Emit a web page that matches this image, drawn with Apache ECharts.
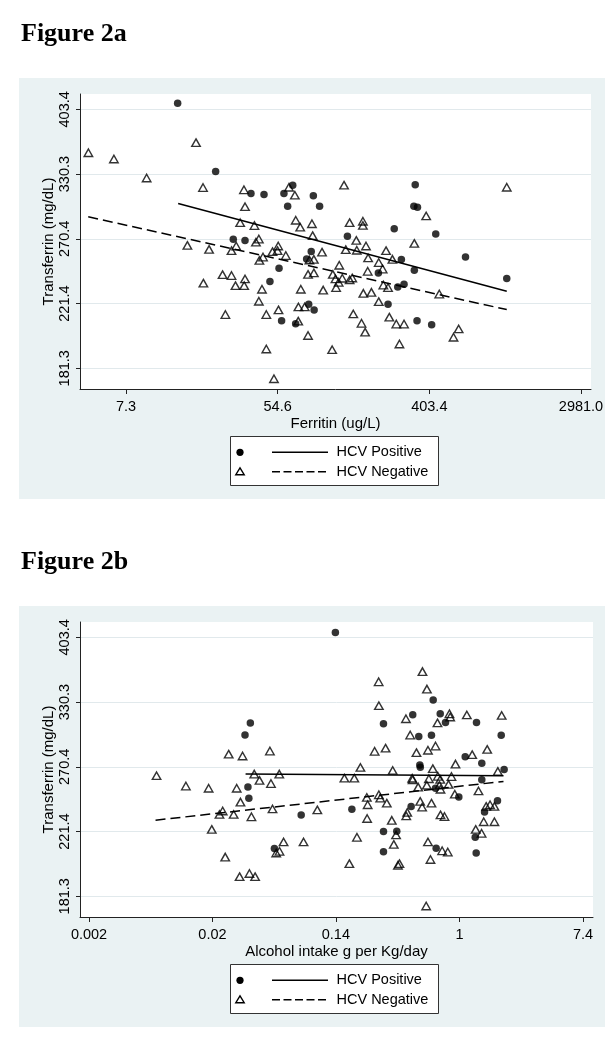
<!DOCTYPE html>
<html><head><meta charset="utf-8">
<script src="https://cdn.jsdelivr.net/npm/echarts@6/dist/echarts.min.js"></script>
<style>html,body{margin:0;padding:0;background:#fff}#c{width:614px;height:1050px}</style>
</head><body><div id="c"></div>
<script>
// ---- Figure 2a: Ferritin (ug/L) vs Transferrin (mg/dL), both on log scales ----
const fig2aPositive = [[14.6,411],[24.1,333],[38.4,311],[45.6,310],[59.3,311],[66.6,319],[87.4,309],[62.3,299],[94.9,299],[30.4,270],[35.5,269],[49.3,237],[55.6,247],[57.5,210],[69.2,208],[82.2,221],[88.3,217],[85.0,260],[80.0,254],[335,319.5],[329,299],[345,298],[254,279],[137,272.5],[439,274.5],[650,255.6],[279,253.6],[331,245.4],[206,243.4],[266,233],[289,235],[234,221],[343,210],[416,207.3],[1120,239.2]];
const fig2aNegative = [[4.5,352.8],[6.3,346],[9.7,326.3],[18.6,364],[20.4,316.8],[35.0,314.6],[35.5,298.6],[33.3,284.2],[40.2,281.7],[42.6,270.2],[41.0,267.6],[16.6,265],[22.1,261.7],[29.7,260.7],[31.6,264.5],[26.4,242.1],[29.7,241.4],[20.5,235.8],[31.3,234],[35.1,234],[35.5,238.9],[44.4,231.4],[42.6,223],[27.4,214],[47.0,214],[55.2,217.1],[47.0,192.4],[52.0,175.5],[51.0,259.9],[54.5,260.7],[45.0,255.6],[42.9,253],[60.8,256.8],[55.0,264.5],[63.4,317.1],[68.5,309.4],[69.3,286.4],[73.5,280.3],[85.8,283.3],[86.6,273.1],[74.1,231.4],[71.8,219.1],[78.0,219.1],[71.6,209.7],[81.5,200.6],[81.5,242.3],[88.0,243.4],[83.0,253.3],[88.0,253.8],[98,259.5],[99.5,230.8],[131,319.2],[1120,317.1],[387,290.2],[141,284.3],[168,285.5],[168,281.8],[331,266.6],[154,269.1],[134,261.5],[155,261],[175,264.5],[180,254.9],[123,249.2],[228,260.7],[248,253.8],[207,251.3],[218,246.3],[179,244.6],[113,242.3],[117,238.9],[122,236.4],[118,232.6],[128,239.4],[146,239.6],[141,238.2],[220,234.4],[234,232.6],[460,228.0],[169,228.5],[188,229.2],[207,222.7],[148,214.4],[238,212.3],[165,208.3],[173,202.7],[261,207.8],[289,207.8],[272,195.4],[112,192],[594,204.7],[555,199.5]];
const fig2aFitPositive = [[14.7,301.5],[1120,230.0]];
const fig2aFitNegative = [[4.49,289.4],[1120,217.3]];
const fig2aXTickValues = [7.389,54.6,403.4,2981.0];
const fig2aXTickLabels = ['7.3','54.6','403.4','2981.0'];

// ---- Figure 2b: Alcohol intake (g per Kg/day) vs Transferrin (mg/dL) ----
const fig2bPositive = [[0.0338,309.7],[0.031,298.3],[0.0325,254.0],[0.033,245.3],[0.077,233.0],[0.0499,210.1],[0.134,409.6],[0.653,332.5],[0.292,308.8],[0.469,317.6],[0.732,318.5],[0.797,310.2],[1.317,310.2],[0.517,297.0],[0.635,298.0],[1.965,298.0],[1.097,279.0],[1.435,273.5],[0.526,271.9],[0.530,270.0],[2.06,268.1],[1.435,259.8],[0.678,253.1],[0.989,246.3],[1.85,243.5],[1.50,235.2],[0.457,239.3],[0.175,237.2],[0.292,221.4],[0.362,221.6],[0.292,208.0],[0.685,210.3],[1.29,217.5],[1.31,207.2]];
const fig2bNegative = [[0.0074,263.1],[0.0119,254.8],[0.0172,253.1],[0.0181,222.9],[0.0225,204.6],[0.0284,192.6],[0.0333,194.5],[0.0365,192.6],[0.0238,281.2],[0.0298,279.6],[0.0464,283.9],[0.036,264.4],[0.0392,259.3],[0.054,264.4],[0.0472,256.8],[0.0271,253.1],[0.0288,242.5],[0.0216,235.9],[0.0205,233.4],[0.0258,233.4],[0.0344,231.7],[0.0484,237.4],[0.0579,214.4],[0.080,214.4],[0.0542,208.3],[0.0514,207.2],[0.100,236.7],[0.549,362.9],[0.270,351.6],[0.59,343.8],[0.271,326.6],[1.126,317.4],[0.85,318.5],[0.86,315.4],[0.70,309.7],[0.42,313.7],[0.45,298.3],[0.60,284.6],[0.678,288.3],[0.498,282.5],[0.937,272.7],[0.253,283.7],[0.302,286.5],[0.201,269.9],[0.339,267.4],[0.649,268.9],[0.155,261.1],[0.182,261.1],[0.465,261.0],[0.468,259.8],[0.609,260.6],[0.704,262.6],[0.732,260.1],[0.878,262.4],[0.512,254.0],[0.589,255.5],[0.723,255.5],[0.837,256.1],[0.735,252.3],[0.927,248.5],[0.223,246.0],[0.271,248.0],[0.226,240.5],[0.277,245.5],[0.308,241.7],[0.529,243.0],[0.635,241.7],[0.546,238.7],[0.429,234.9],[0.422,232.4],[0.735,233.1],[0.784,231.9],[0.224,230.5],[0.334,229.2],[0.19,217.5],[0.358,219.1],[0.345,212.8],[0.60,214.4],[0.755,208.6],[0.827,207.8],[0.168,200.5],[0.369,199.5],[0.378,200.5],[0.625,203.1],[0.583,175.9],[1.98,316.9],[1.566,285.4],[1.228,280.8],[1.86,266.6],[1.36,251.0],[1.54,239.3],[1.64,240.5],[1.76,239.3],[1.48,228.2],[1.76,228.2],[1.30,222.9],[1.43,220.2]];
const fig2bFitPositive = [[0.0313,264.5],[2.039,263.0]];
const fig2bFitNegative = [[0.00728,229.3],[2.039,258.5]];
const fig2bXTickValues = [0.00248,0.0183,0.135,1,7.389];
const fig2bXTickLabels = ['0.002','0.02','0.14','1','7.4'];

// ---- shared Transferrin ticks ----
const yTickValues = [181.3,221.4,270.4,330.3,403.4];
const yTickLabels = ['181.3','221.4','270.4','330.3','403.4'];
const legendNames = ['HCV Positive','HCV Negative'];

const FONT = '"Liberation Sans", Arial, sans-serif';
const ln = v => Math.log(v);
const toLn = arr => arr.map(p => [ln(p[0]), ln(p[1])]);
function labelFor(vals, labels) {
  return function (v) {
    let best = 0, d = Infinity;
    vals.forEach((t, i) => { const dd = Math.abs(ln(t) - v); if (dd < d) { d = dd; best = i; } });
    return labels[best];
  };
}
const axisLineStyle = { color: '#222', width: 1 };
function xAxisCfg(grid, min, max, vals, labels, name) {
  const cv = vals.map(ln);
  return {
    type: 'value', gridIndex: grid, min: min, max: max,
    name: name, nameLocation: 'middle', nameGap: 27,
    nameTextStyle: { fontFamily: FONT, fontSize: 15, color: '#000' },
    axisLine: { show: true, onZero: false, lineStyle: axisLineStyle },
    axisTick: { show: true, length: 5, lineStyle: axisLineStyle, customValues: cv },
    axisLabel: { customValues: cv, formatter: labelFor(vals, labels), fontFamily: FONT, fontSize: 14.5, color: '#000', margin: 10 },
    splitLine: { show: false }
  };
}
function yAxisCfg(grid) {
  const cv = yTickValues.map(ln);
  return {
    type: 'value', gridIndex: grid, min: 5.136, max: 6.0473,
    name: 'Transferrin (mg/dL)', nameLocation: 'middle', nameGap: 24, nameRotate: 90, nameMoveOverlap: false,
    nameTextStyle: { fontFamily: FONT, fontSize: 15, color: '#000' },
    axisLine: { show: true, onZero: false, lineStyle: axisLineStyle },
    axisTick: { show: true, length: 4, lineStyle: axisLineStyle, customValues: cv },
    axisLabel: { customValues: cv, rotate: 90, formatter: labelFor(yTickValues, yTickLabels), fontFamily: FONT, fontSize: 14.5, color: '#000', margin: 8 },
    splitLine: { show: true, lineStyle: { color: '#e1e9ec', width: 1 } }
  };
}
function seriesFor(idx, pos, neg, fitPos, fitNeg) {
  return [
    { type: 'scatter', xAxisIndex: idx, yAxisIndex: idx, data: toLn(pos), symbol: 'circle', symbolSize: 7.5, itemStyle: { color: '#000' }, z: 4 },
    { type: 'scatter', xAxisIndex: idx, yAxisIndex: idx, data: toLn(neg), symbol: 'triangle', symbolSize: [8.5, 7.5], itemStyle: { color: 'rgba(255,255,255,0)', borderColor: '#000', borderWidth: 1.4 }, z: 3 },
    { type: 'line', xAxisIndex: idx, yAxisIndex: idx, data: toLn(fitPos), symbol: 'none', lineStyle: { color: '#000', width: 1.5 }, z: 5 },
    { type: 'line', xAxisIndex: idx, yAxisIndex: idx, data: toLn(fitNeg), symbol: 'none', lineStyle: { color: '#000', width: 1.5, type: [10, 5] }, z: 5 }
  ];
}
function legendGraphic(top) {
  const r1 = top + 16.3, r2 = top + 35.7;
  return [
    { type: 'rect', shape: { x: 230.5, y: top + 0.5, width: 208, height: 49 }, style: { fill: '#fff', stroke: '#333', lineWidth: 1 }, z: 10 },
    { type: 'circle', shape: { cx: 240, cy: r1, r: 3.6 }, style: { fill: '#000' }, z: 11 },
    { type: 'polygon', shape: { points: [[240, r2 - 3.8], [235.8, r2 + 3], [244.2, r2 + 3]] }, style: { fill: 'none', stroke: '#000', lineWidth: 1.4 }, z: 11 },
    { type: 'line', shape: { x1: 272, y1: r1, x2: 328, y2: r1 }, style: { stroke: '#000', lineWidth: 1.5 }, z: 11 },
    { type: 'line', shape: { x1: 272, y1: r2, x2: 328, y2: r2 }, style: { stroke: '#000', lineWidth: 1.5, lineDash: [8, 3.5] }, z: 11 },
    { type: 'text', x: 336.5, y: r1, style: { text: legendNames[0], font: '14.5px ' + FONT, fill: '#000', textVerticalAlign: 'middle' }, z: 11 },
    { type: 'text', x: 336.5, y: r2, style: { text: legendNames[1], font: '14.5px ' + FONT, fill: '#000', textVerticalAlign: 'middle' }, z: 11 }
  ];
}

const chart = echarts.init(document.getElementById('c'), null, { renderer: 'canvas' });
chart.setOption({
  backgroundColor: '#fff',
  animation: false,
  title: [
    { text: 'Figure 2a', left: 16, top: 16, textStyle: { fontFamily: '"Liberation Serif", "Times New Roman", serif', fontWeight: 'bold', fontSize: 26, color: '#000' } },
    { text: 'Figure 2b', left: 16, top: 544, textStyle: { fontFamily: '"Liberation Serif", "Times New Roman", serif', fontWeight: 'bold', fontSize: 26, color: '#000' } }
  ],
  grid: [
    { left: 80, top: 94, width: 511, height: 295, show: true, backgroundColor: '#fff', borderWidth: 0 },
    { left: 80, top: 622, width: 513, height: 295, show: true, backgroundColor: '#fff', borderWidth: 0 }
  ],
  xAxis: [
    xAxisCfg(0, 1.3934, 8.132, fig2aXTickValues, fig2aXTickLabels, 'Ferritin (ug/L)'),
    xAxisCfg(1, -6.146, 2.162, fig2bXTickValues, fig2bXTickLabels, 'Alcohol intake g per Kg/day')
  ],
  yAxis: [yAxisCfg(0), yAxisCfg(1)],
  graphic: { elements: [
    { type: 'rect', shape: { x: 19, y: 78, width: 586, height: 421 }, style: { fill: '#eaf2f3' }, z: -10 },
    { type: 'rect', shape: { x: 19, y: 606, width: 586, height: 421 }, style: { fill: '#eaf2f3' }, z: -10 }
  ].concat(legendGraphic(436), legendGraphic(964)) },
  series: seriesFor(0, fig2aPositive, fig2aNegative, fig2aFitPositive, fig2aFitNegative)
    .concat(seriesFor(1, fig2bPositive, fig2bNegative, fig2bFitPositive, fig2bFitNegative))
});
</script>
</body></html>
